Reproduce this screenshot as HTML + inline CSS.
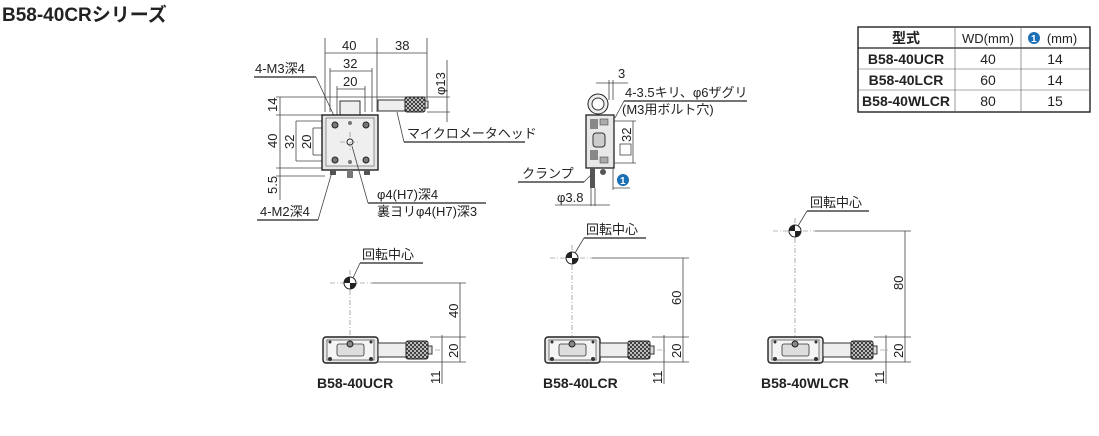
<!DOCTYPE html>
<html><head><meta charset="utf-8"><style>
body{margin:0;background:#fff;}
svg{display:block;font-family:"Liberation Sans","Noto Sans CJK JP",sans-serif;}
.t{font-size:13px;fill:#222;}
.l{stroke:#222;stroke-width:1.2;fill:none;}
.d{stroke:#444;stroke-width:0.8;fill:none;}
.c{stroke:#777;stroke-width:0.6;stroke-dasharray:5 2 1 2;fill:none;}
</style></head><body>
<svg width="1099" height="436" viewBox="0 0 1099 436">
<defs>
<pattern id="kn" width="4" height="4" patternUnits="userSpaceOnUse">
<rect width="4" height="4" fill="#ddd"/><path d="M0 0L4 4M4 0L0 4" stroke="#222" stroke-width="0.8"/>
</pattern>
<g id="side">
<rect x="0" y="0" width="55" height="26" rx="3" fill="#e8e8e8" stroke="#222" stroke-width="1.4"/>
<rect x="4" y="3" width="47" height="20" fill="#f4f4f4" stroke="#444" stroke-width="0.7"/>
<rect x="14" y="7" width="27" height="12" rx="2" fill="#ddd" stroke="#333" stroke-width="0.8"/>
<circle cx="27" cy="7" r="3" fill="#888" stroke="#222"/>
<circle cx="7" cy="22" r="2" fill="#333"/><circle cx="48" cy="22" r="2" fill="#333"/>
<circle cx="7" cy="5" r="1.5" fill="#333"/><circle cx="48" cy="5" r="1.5" fill="#333"/>
<rect x="55" y="6" width="28" height="14" fill="#eee" stroke="#333"/>
<rect x="83" y="4" width="22" height="18" rx="2" fill="url(#kn)" stroke="#222"/>
<rect x="105" y="9" width="4" height="8" fill="#ddd" stroke="#333"/>
<line x1="112" y1="13" x2="120" y2="13" class="c"/>
</g>
<g id="cdot"><circle r="6" fill="#fff" stroke="#222"/><path d="M-6 0A6 6 0 0 1 0 -6V0Z M6 0A6 6 0 0 1 0 6V0Z" fill="#222"/></g>
</defs>

<text x="2" y="21" style="font-size:19px;font-weight:bold;fill:#222">B58-40CRシリーズ</text>

<!-- Top view -->
<g>
<line x1="325" y1="38" x2="325" y2="112" class="d"/><line x1="377" y1="38" x2="377" y2="112" class="d"/><line x1="427" y1="38" x2="427" y2="100" class="d"/>
<line x1="325" y1="53" x2="427" y2="53" class="d"/>
<text x="342" y="50" class="t">40</text><text x="395" y="50" class="t">38</text>
<line x1="330" y1="71" x2="372" y2="71" class="d"/><line x1="330" y1="68" x2="330" y2="112" class="d"/><line x1="372" y1="68" x2="372" y2="112" class="d"/>
<text x="343" y="68" class="t">32</text>
<line x1="337" y1="89" x2="365" y2="89" class="d"/><line x1="337" y1="86" x2="337" y2="120" class="d"/><line x1="365" y1="86" x2="365" y2="112" class="d"/>
<text x="343" y="86" class="t">20</text>
<text x="255" y="73" class="t">4-M3深4</text><line x1="254" y1="77" x2="316" y2="77" class="l"/><line x1="316" y1="77" x2="335" y2="118" class="d"/>
<line x1="276" y1="97" x2="450" y2="97" class="d"/><line x1="276" y1="115" x2="325" y2="115" class="d"/><line x1="276" y1="168" x2="325" y2="168" class="d"/><line x1="276" y1="176" x2="325" y2="176" class="d"/>
<line x1="280" y1="97" x2="280" y2="200" class="d"/>
<text transform="translate(277,112) rotate(-90)" class="t">14</text>
<text transform="translate(277,148) rotate(-90)" class="t">40</text>
<text transform="translate(277,194) rotate(-90)" class="t">5.5</text>
<line x1="296" y1="121" x2="296" y2="161" class="d"/><line x1="296" y1="121" x2="325" y2="121" class="d"/><line x1="296" y1="161" x2="325" y2="161" class="d"/>
<text transform="translate(294,149) rotate(-90)" class="t">32</text>
<line x1="313" y1="128" x2="313" y2="155" class="d"/><line x1="313" y1="128" x2="325" y2="128" class="d"/><line x1="313" y1="155" x2="325" y2="155" class="d"/>
<text transform="translate(311,149) rotate(-90)" class="t">20</text>
<rect x="340" y="101" width="20" height="14" fill="#eee" stroke="#333"/>
<rect x="322" y="115" width="56" height="55" fill="#e6e6e6" stroke="#222" stroke-width="1.4"/>
<rect x="326" y="118" width="48" height="48" fill="#efefef" stroke="#555" stroke-width="0.6"/>
<circle cx="335" cy="125" r="3" fill="#777" stroke="#222"/><circle cx="366" cy="125" r="3" fill="#777" stroke="#222"/>
<circle cx="335" cy="160" r="3" fill="#777" stroke="#222"/><circle cx="366" cy="160" r="3" fill="#777" stroke="#222"/>
<circle cx="350" cy="123" r="2" fill="#777"/><circle cx="350" cy="162" r="2" fill="#777"/>
<circle cx="350" cy="142" r="3" fill="#fff" stroke="#222"/>
<line x1="340" y1="142" x2="360" y2="142" class="c"/><line x1="350" y1="132" x2="350" y2="152" class="c"/>
<rect x="330" y="170" width="6" height="5" fill="#555"/><rect x="364" y="170" width="6" height="5" fill="#555"/><rect x="347" y="170" width="6" height="8" fill="#777"/>
<rect x="378" y="100" width="27" height="11" fill="#eee" stroke="#333"/>
<rect x="405" y="97" width="20" height="15" rx="2" fill="url(#kn)" stroke="#222"/>
<rect x="425" y="101" width="3" height="7" fill="#ddd" stroke="#333"/>
<line x1="427" y1="112" x2="450" y2="112" class="d"/>
<line x1="447" y1="60" x2="447" y2="122" class="d"/>
<text transform="translate(445,95) rotate(-90)" class="t">φ13</text>
<text x="407" y="138" class="t">マイクロメータヘッド</text><line x1="404" y1="142" x2="525" y2="142" class="l"/><line x1="404" y1="142" x2="397" y2="112" class="d"/>
<text x="377" y="199" class="t">φ4(H7)深4</text><line x1="368" y1="203" x2="486" y2="203" class="l"/><line x1="368" y1="203" x2="352" y2="146" class="d"/>
<text x="377" y="216" class="t">裏ヨリφ4(H7)深3</text>
<text x="260" y="216" class="t">4-M2深4</text><line x1="257" y1="220" x2="318" y2="220" class="l"/><line x1="318" y1="220" x2="332" y2="172" class="d"/>
</g>

<!-- Right side view -->
<g>
<line x1="609" y1="80" x2="609" y2="100" class="d"/><line x1="613" y1="80" x2="613" y2="100" class="d"/><line x1="596" y1="83" x2="628" y2="83" class="d"/>
<text x="618" y="78" class="t">3</text>
<circle cx="598" cy="104" r="10" fill="#eee" stroke="#222"/><circle cx="598" cy="104" r="6" fill="#fff" stroke="#333"/>
<rect x="586" y="115" width="28" height="53" fill="#e8e8e8" stroke="#222" stroke-width="1.3"/>
<rect x="590" y="119" width="8" height="10" fill="#888"/><rect x="590" y="150" width="8" height="10" fill="#888"/>
<rect x="593" y="133" width="12" height="14" rx="3" fill="#ccc" stroke="#333"/>
<rect x="600" y="119" width="8" height="6" fill="#aaa" stroke="#333" stroke-width="0.5"/><rect x="600" y="157" width="8" height="6" fill="#aaa" stroke="#333" stroke-width="0.5"/>
<circle cx="603" cy="172" r="3" fill="#555"/>
<rect x="590" y="168" width="5" height="20" fill="#555"/>
<text x="625" y="97" class="t">4-3.5キリ、φ6ザグリ</text><line x1="624" y1="101" x2="747" y2="101" class="l"/><line x1="624" y1="101" x2="615" y2="118" class="d"/>
<text x="622" y="114" class="t">(M3用ボルト穴)</text>
<line x1="614" y1="121" x2="636" y2="121" class="d"/><line x1="614" y1="163" x2="636" y2="163" class="d"/><line x1="633" y1="121" x2="633" y2="163" class="d"/>
<rect x="620" y="144" width="11" height="11" fill="#fff" stroke="#444" stroke-width="0.8"/>
<text transform="translate(631,142) rotate(-90)" class="t">32</text>
<circle cx="623" cy="180" r="6" fill="#1a6fb5"/><text x="620" y="184" style="font-size:10px;font-weight:bold;fill:#fff">1</text>
<line x1="613" y1="188" x2="630" y2="188" class="d"/><line x1="613" y1="168" x2="613" y2="190" class="d"/>
<text x="522" y="178" class="t">クランプ</text><line x1="518" y1="182" x2="584" y2="182" class="l"/><line x1="584" y1="182" x2="591" y2="175" class="d"/>
<line x1="591" y1="188" x2="591" y2="206" class="d"/><line x1="595" y1="188" x2="595" y2="206" class="d"/><line x1="555" y1="205" x2="610" y2="205" class="d"/>
<text x="557" y="202" class="t">φ3.8</text>
</g>

<!-- Table -->
<g font-size="14">
<rect x="858" y="27" width="232" height="85" fill="#fff" stroke="#222" stroke-width="1.4"/>
<line x1="858" y1="48" x2="1090" y2="48" stroke="#222" stroke-width="1.2"/>
<line x1="858" y1="69" x2="1090" y2="69" stroke="#555" stroke-width="0.6"/>
<line x1="858" y1="90" x2="1090" y2="90" stroke="#555" stroke-width="0.6"/>
<line x1="955" y1="27" x2="955" y2="112" stroke="#555" stroke-width="0.6"/>
<line x1="1021" y1="27" x2="1021" y2="112" stroke="#555" stroke-width="0.6"/>
<text x="906" y="43" text-anchor="middle" style="font-weight:bold;fill:#222">型式</text>
<text x="988" y="43" text-anchor="middle" class="t">WD(mm)</text>
<circle cx="1034" cy="38" r="6" fill="#1a6fb5"/><text x="1031" y="42" style="font-size:10px;font-weight:bold;fill:#fff">1</text>
<text x="1062" y="43" text-anchor="middle" class="t">(mm)</text>
<text x="906" y="64" text-anchor="middle" style="font-weight:bold;fill:#222">B58-40UCR</text>
<text x="906" y="85" text-anchor="middle" style="font-weight:bold;fill:#222">B58-40LCR</text>
<text x="906" y="106" text-anchor="middle" style="font-weight:bold;fill:#222">B58-40WLCR</text>
<text x="988" y="64" text-anchor="middle" style="fill:#222">40</text><text x="988" y="85" text-anchor="middle" style="fill:#222">60</text><text x="988" y="106" text-anchor="middle" style="fill:#222">80</text>
<text x="1055" y="64" text-anchor="middle" style="fill:#222">14</text><text x="1055" y="85" text-anchor="middle" style="fill:#222">14</text><text x="1055" y="106" text-anchor="middle" style="fill:#222">15</text>
</g>

<!-- Bottom side views -->
<g>
<line x1="330" y1="283" x2="372" y2="283" class="c"/><line x1="350" y1="270" x2="350" y2="340" class="c"/>
<line x1="372" y1="283" x2="466" y2="283" class="d"/><line x1="460" y1="283" x2="460" y2="362" class="d"/>
<line x1="430" y1="337" x2="466" y2="337" class="d"/><line x1="378" y1="362" x2="466" y2="362" class="d"/><line x1="442" y1="335" x2="442" y2="384" class="d"/>
<text transform="translate(458,318) rotate(-90)" class="t">40</text>
<text transform="translate(458,358) rotate(-90)" class="t">20</text>
<text transform="translate(440,384) rotate(-90)" class="t">11</text>
<use href="#side" x="323" y="337"/><use href="#cdot" x="350" y="283"/>
<text x="362" y="259" class="t">回転中心</text><line x1="360" y1="263" x2="423" y2="263" class="l"/><line x1="360" y1="263" x2="353" y2="278" class="d"/>
<text x="317" y="388" style="font-size:14px;font-weight:bold;fill:#222">B58-40UCR</text>
</g>
<g>
<line x1="550" y1="258" x2="592" y2="258" class="c"/><line x1="572" y1="245" x2="572" y2="340" class="c"/>
<line x1="592" y1="258" x2="689" y2="258" class="d"/><line x1="683" y1="258" x2="683" y2="362" class="d"/>
<line x1="652" y1="337" x2="689" y2="337" class="d"/><line x1="600" y1="362" x2="689" y2="362" class="d"/><line x1="664" y1="335" x2="664" y2="384" class="d"/>
<text transform="translate(681,305) rotate(-90)" class="t">60</text>
<text transform="translate(681,358) rotate(-90)" class="t">20</text>
<text transform="translate(662,384) rotate(-90)" class="t">11</text>
<use href="#side" x="545" y="337"/><use href="#cdot" x="572" y="258"/>
<text x="586" y="234" class="t">回転中心</text><line x1="584" y1="238" x2="646" y2="238" class="l"/><line x1="584" y1="238" x2="575" y2="253" class="d"/>
<text x="543" y="388" style="font-size:14px;font-weight:bold;fill:#222">B58-40LCR</text>
</g>
<g>
<line x1="773" y1="231" x2="815" y2="231" class="c"/><line x1="795" y1="218" x2="795" y2="340" class="c"/>
<line x1="815" y1="231" x2="911" y2="231" class="d"/><line x1="905" y1="231" x2="905" y2="362" class="d"/>
<line x1="874" y1="337" x2="911" y2="337" class="d"/><line x1="822" y1="362" x2="911" y2="362" class="d"/><line x1="886" y1="335" x2="886" y2="384" class="d"/>
<text transform="translate(903,290) rotate(-90)" class="t">80</text>
<text transform="translate(903,358) rotate(-90)" class="t">20</text>
<text transform="translate(884,384) rotate(-90)" class="t">11</text>
<use href="#side" x="768" y="337"/><use href="#cdot" x="795" y="231"/>
<text x="810" y="207" class="t">回転中心</text><line x1="807" y1="211" x2="869" y2="211" class="l"/><line x1="807" y1="211" x2="798" y2="226" class="d"/>
<text x="761" y="388" style="font-size:14px;font-weight:bold;fill:#222">B58-40WLCR</text>
</g>
</svg>
</body></html>
